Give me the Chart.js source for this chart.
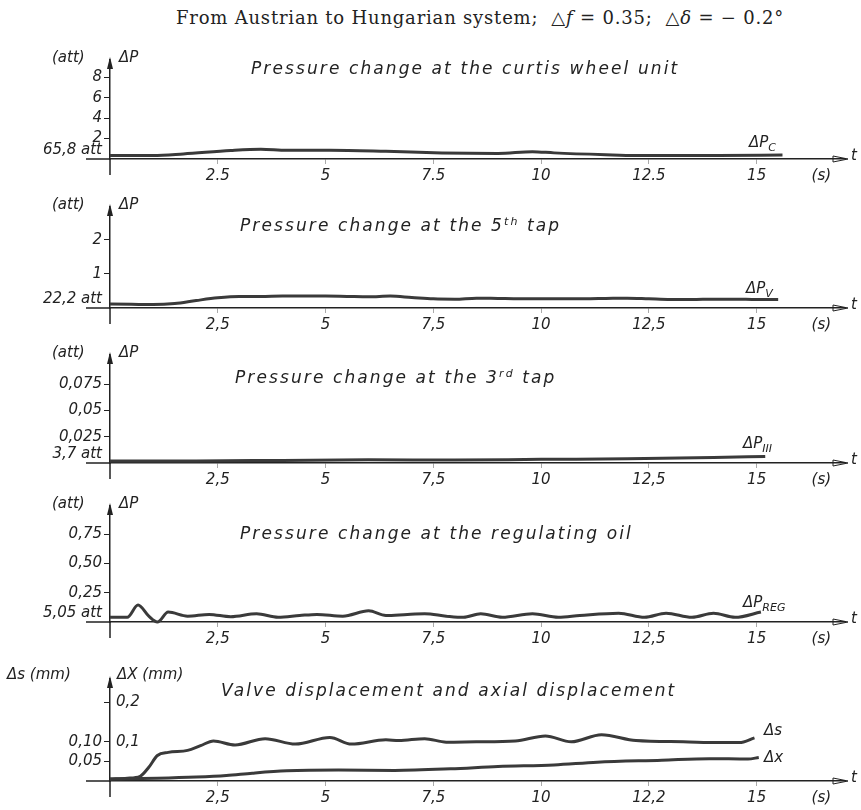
<!DOCTYPE html>
<html>
<head>
<meta charset="utf-8">
<script src="https://cdn.jsdelivr.net/npm/chart.js@4.4.1/dist/chart.umd.min.js"></script>
<style>
    body { margin: 0; background: #fff; }
    #page { position: relative; width: 861px; height: 810px; overflow: hidden; background: #fff; }
    canvas { position: absolute; left: 0; }
    .t { position: absolute; white-space: nowrap; font-family: "DejaVu Sans", sans-serif; font-style: italic; color: #222; transform: translateY(-50%); }
    .lab { font-size: 15px; }
    .sub { font-size: 17px; letter-spacing: 2.1px; }
    .t sub, .t sup { font-size: 11px; }
    #title { position: absolute; top: 7px; left: 0; width: 960px; text-align: center; font-family: "DejaVu Serif", "Liberation Serif", serif; font-size: 18px; color: #222; letter-spacing: 0.8px; }
</style>
</head>
<body>
<div id="page">
    <div id="title">From Austrian to Hungarian system; &nbsp;△<i>f</i> = 0.35; &nbsp;△<i>δ</i> = − 0.2°</div>

    <canvas id="curtisChart" width="861" height="144" style="top:49px"></canvas>
    <canvas id="tap5Chart" width="861" height="146" style="top:196px"></canvas>
    <canvas id="tap3Chart" width="861" height="153" style="top:344px"></canvas>
    <canvas id="oilChart" width="861" height="161" style="top:495px"></canvas>
    <canvas id="valveChart" width="861" height="151" style="top:664px"></canvas>

    <!-- panel 1 -->
    <div class="t lab" style="left:52px;top:57px">(att)</div>
    <div class="t lab" style="left:119px;top:57px">ΔP</div>
    <div class="t sub" style="left:251px;top:68px">Pressure change at the curtis wheel unit</div>
    <div class="t lab" style="left:749px;top:143px">ΔP<sub>C</sub></div>
    <div class="t lab" style="left:851px;top:155px">t</div>

    <!-- panel 2 -->
    <div class="t lab" style="left:52px;top:204px">(att)</div>
    <div class="t lab" style="left:119px;top:204px">ΔP</div>
    <div class="t sub" style="left:240px;top:225px">Pressure change at the 5<sup>th</sup> tap</div>
    <div class="t lab" style="left:746px;top:289px">ΔP<sub>V</sub></div>
    <div class="t lab" style="left:851px;top:304px">t</div>

    <!-- panel 3 -->
    <div class="t lab" style="left:52px;top:352px">(att)</div>
    <div class="t lab" style="left:119px;top:352px">ΔP</div>
    <div class="t sub" style="left:235px;top:377px">Pressure change at the 3<sup>rd</sup> tap</div>
    <div class="t lab" style="left:743px;top:444px">ΔP<sub>III</sub></div>
    <div class="t lab" style="left:851px;top:459px">t</div>

    <!-- panel 4 -->
    <div class="t lab" style="left:52px;top:503px">(att)</div>
    <div class="t lab" style="left:119px;top:503px">ΔP</div>
    <div class="t sub" style="left:240px;top:533px">Pressure change at the regulating oil</div>
    <div class="t lab" style="left:743px;top:603px">ΔP<sub>REG</sub></div>
    <div class="t lab" style="left:851px;top:618px">t</div>

    <!-- panel 5 -->
    <div class="t lab" style="left:7px;top:674px">Δs (mm)</div>
    <div class="t lab" style="left:117px;top:674px">ΔX (mm)</div>
    <div class="t sub" style="left:221px;top:690px">Valve displacement and axial displacement</div>
    <div class="t lab" style="left:764px;top:730px">Δs</div>
    <div class="t lab" style="left:764px;top:757px">Δx</div>
    <div class="t lab" style="left:851px;top:777px">t</div>
</div>

<script>
// time axis (s)
const xTicks = [2.5, 5, 7.5, 10, 12.5, 15];
const xLabelsDot = ['2.5', '5', '7.5', '10', '12.5', '15'];
const xLabelsComma = ['2,5', '5', '7,5', '10', '12,5', '15'];
const xLabelsValve = ['2,5', '5', '7,5', '10', '12,2', '15'];

// pressure change at the curtis wheel unit (att)
const tCurtis = [0, 1, 1.7, 2.8, 3.5, 4.1, 5.1, 6.4, 7.7, 9.0, 9.8, 10.3, 11.5, 12.2, 14.1, 15.6];
const pCurtis = [0.35, 0.35, 0.5, 0.83, 0.95, 0.85, 0.85, 0.75, 0.6, 0.55, 0.72, 0.6, 0.42, 0.35, 0.35, 0.38];
const yTicksCurtis = [0, 2, 4, 6, 8];
const yLabelsCurtis = ['65,8 att', '2', '4', '6', '8'];

// pressure change at the 5th tap (att)
const tTap5 = [0, 0.5, 1, 1.5, 2, 2.5, 3, 3.5, 4, 4.5, 5, 5.5, 6, 6.5, 7, 7.5, 8, 8.5, 9, 9.5, 10, 10.5, 11, 11.5, 12, 12.5, 13, 13.5, 14, 14.5, 15, 15.5];
const pTap5 = [0.12, 0.11, 0.1, 0.13, 0.22, 0.3, 0.34, 0.34, 0.35, 0.35, 0.35, 0.34, 0.33, 0.35, 0.31, 0.27, 0.26, 0.29, 0.28, 0.27, 0.27, 0.27, 0.27, 0.28, 0.29, 0.27, 0.25, 0.25, 0.26, 0.26, 0.25, 0.25];
const yTicksTap5 = [0, 1, 2];
const yLabelsTap5 = ['22,2 att', '1', '2'];

// pressure change at the 3rd tap (att)
const tTap3 = [0, 2, 4, 6, 8, 10, 12, 14, 15.2];
const pTap3 = [0.0018, 0.002, 0.0025, 0.003, 0.0028, 0.0035, 0.004, 0.0052, 0.0062];
const yTicksTap3 = [0, 0.025, 0.05, 0.075];
const yLabelsTap3 = ['3,7 att', '0,025', '0,05', '0,075'];

// pressure change at the regulating oil (att)
const tOil = [0, 0.4, 0.65, 0.9, 1.1, 1.35, 1.8, 2.3, 2.8, 3.4, 3.9, 4.4, 4.8, 5.4, 6.0, 6.4, 6.9, 7.3, 7.8, 8.2, 8.6, 9.1, 9.8, 10.4, 10.9, 11.8, 12.4, 12.9, 13.5, 14.0, 14.5, 15.1];
const pOil = [0.04, 0.04, 0.145, 0.05, 0.0, 0.085, 0.05, 0.065, 0.045, 0.07, 0.04, 0.055, 0.065, 0.05, 0.095, 0.055, 0.065, 0.07, 0.05, 0.04, 0.07, 0.04, 0.07, 0.04, 0.055, 0.075, 0.04, 0.075, 0.04, 0.075, 0.04, 0.085];
const yTicksOil = [0, 0.25, 0.5, 0.75];
const yLabelsOil = ['5,05 att', '0,25', '0,50', '0,75'];

// valve displacement (mm)
const tValve = [0, 0.4, 0.7, 0.9, 1.1, 1.35, 1.8, 2.1, 2.4, 2.9, 3.6, 4.3, 5.1, 5.6, 6.4, 6.7, 7.3, 7.8, 8.5, 9.4, 10.1, 10.7, 11.4, 12.2, 13.3, 14.1, 14.6, 14.95];
const sValve = [0.005, 0.007, 0.012, 0.035, 0.065, 0.073, 0.078, 0.09, 0.102, 0.092, 0.108, 0.094, 0.111, 0.094, 0.105, 0.103, 0.108, 0.099, 0.1, 0.102, 0.115, 0.1, 0.118, 0.103, 0.1, 0.098, 0.098, 0.11];
// axial displacement (mm)
const tAxial = [0, 1.1, 2.0, 2.7, 3.3, 4.1, 5.3, 6.6, 7.9, 9.0, 10.3, 11.3, 12.8, 13.9, 14.8, 15.05];
const xAxial = [0.005, 0.007, 0.01, 0.014, 0.02, 0.026, 0.028, 0.027, 0.031, 0.037, 0.041, 0.048, 0.053, 0.057, 0.056, 0.06];
const yTicksValve = [0.05, 0.1, 0.2];
const yLabelsValve = ['0,05', '0,10', ''];
const yTicksAxial = [0.1, 0.2];
const yLabelsAxial = ['0,1', '0,2'];

const ink = '#222';
const tickFont = { family: 'DejaVu Sans', size: 15, style: 'italic' };

// arrows on both axes, plus the little stubs past the origin
const axisArrows = {
    id: 'axisArrows',
    afterDraw(chart) {
        const { ctx, chartArea: a } = chart;
        ctx.save();
        ctx.strokeStyle = ink;
        ctx.fillStyle = ink;
        ctx.lineWidth = 1.5;
        ctx.beginPath();
        ctx.moveTo(a.left - 24, a.bottom);
        ctx.lineTo(a.left, a.bottom);
        ctx.moveTo(a.left, a.bottom);
        ctx.lineTo(a.left, a.bottom + 16);
        ctx.stroke();
        ctx.beginPath();
        ctx.moveTo(a.left, a.top - 3);
        ctx.lineTo(a.left - 3, a.top + 9);
        ctx.lineTo(a.left + 3, a.top + 9);
        ctx.closePath();
        ctx.fill();
        ctx.lineWidth = 1;
        ctx.beginPath();
        ctx.moveTo(a.right + 3, a.bottom);
        ctx.lineTo(a.right - 12, a.bottom - 3);
        ctx.lineTo(a.right - 12, a.bottom + 3);
        ctx.closePath();
        ctx.stroke();
        ctx.restore();
    }
};

function toPoints(xs, ys) {
    return xs.map((x, i) => ({ x: x, y: ys[i] }));
}

function lineDataset(xs, ys) {
    return {
        data: toPoints(xs, ys),
        borderColor: '#3a3a3a',
        borderWidth: 3,
        pointRadius: 0,
        cubicInterpolationMode: 'monotone',
        clip: false
    };
}

function xScale(labels) {
    return {
        type: 'linear',
        min: 0,
        max: 17.05,
        afterFit: (scale) => { scale.height = 34; },
        afterBuildTicks: (scale) => {
            scale.ticks = xTicks.map(v => ({ value: v })).concat([{ value: 16.5 }]);
        },
        ticks: {
            color: ink,
            font: tickFont,
            padding: 3,
            maxRotation: 0,
            autoSkip: false,
            callback: (value) => {
                const i = xTicks.indexOf(value);
                return i >= 0 ? labels[i] : '(s)';
            }
        },
        grid: {
            drawOnChartArea: false,
            tickLength: 5,
            color: (ctx) => (ctx.tick && ctx.tick.value > 16) ? 'rgba(0,0,0,0)' : '#aaa'
        },
        border: { display: true, color: ink, width: 1.5 }
    };
}

function yScale(min, max, values, labels) {
    return {
        type: 'linear',
        min: min,
        max: max,
        weight: 1,
        afterFit: (scale) => { scale.width = 110; },
        afterBuildTicks: (scale) => {
            scale.ticks = values.map(v => ({ value: v }));
        },
        ticks: {
            color: ink,
            font: tickFont,
            padding: 2,
            autoSkip: false,
            callback: (value) => {
                const label = labels[values.indexOf(value)];
                // base pressure is written just above the time axis
                return label.indexOf('att') >= 0 ? [label, ''] : label;
            }
        },
        grid: {
            drawOnChartArea: false,
            tickLength: 6,
            color: (ctx) => (ctx.tick && ctx.tick.value === 0) ? 'rgba(0,0,0,0)' : ink
        },
        border: { display: true, color: ink, width: 1.5 }
    };
}

function createPanel(id, datasets, scales) {
    const ctx = document.getElementById(id).getContext('2d');
    return new Chart(ctx, {
        type: 'line',
        data: { datasets: datasets },
        options: {
            responsive: false,
            animation: false,
            layout: { padding: { top: 8, right: 16, left: 0, bottom: 0 } },
            plugins: {
                legend: { display: false },
                tooltip: { enabled: false }
            },
            scales: scales
        },
        plugins: [axisArrows]
    });
}

createPanel('curtisChart', [lineDataset(tCurtis, pCurtis)], {
    x: xScale(xLabelsDot),
    y: yScale(0, 9.7, yTicksCurtis, yLabelsCurtis)
});

createPanel('tap5Chart', [lineDataset(tTap5, pTap5)], {
    x: xScale(xLabelsComma),
    y: yScale(0, 2.97, yTicksTap5, yLabelsTap5)
});

createPanel('tap3Chart', [lineDataset(tTap3, pTap3)], {
    x: xScale(xLabelsComma),
    y: yScale(0, 0.103, yTicksTap3, yLabelsTap3)
});

createPanel('oilChart', [lineDataset(tOil, pOil)], {
    x: xScale(xLabelsComma),
    y: yScale(0, 0.99, yTicksOil, yLabelsOil)
});

createPanel('valveChart', [
    lineDataset(tValve, sValve),
    lineDataset(tAxial, xAxial)
], {
    x: xScale(xLabelsValve),
    y: yScale(0, 0.26, yTicksValve, yLabelsValve),
    y2: {
        type: 'linear',
        position: 'left',
        min: 0,
        max: 0.26,
        weight: 0,
        afterFit: (scale) => { scale.width = 0; },
        afterBuildTicks: (scale) => {
            scale.ticks = yTicksAxial.map(v => ({ value: v }));
        },
        ticks: {
            mirror: true,
            padding: 6,
            color: ink,
            font: tickFont,
            callback: (value) => yLabelsAxial[yTicksAxial.indexOf(value)]
        },
        grid: { display: false },
        border: { display: false }
    }
});
</script>
</body>
</html>
